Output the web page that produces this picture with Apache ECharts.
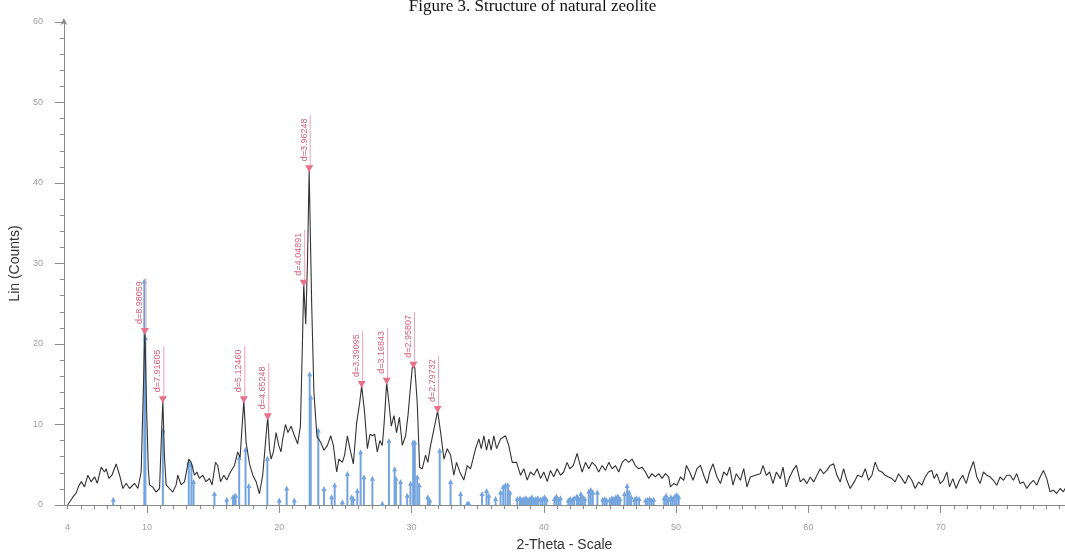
<!DOCTYPE html>
<html><head><meta charset="utf-8">
<script src="https://cdn.jsdelivr.net/npm/echarts@6/dist/echarts.min.js"></script>
<style>html,body{margin:0;padding:0;background:#fff}#c{width:1065px;height:557px}</style>
</head><body><div id="c"></div>
<script>
const chartTitle = 'Figure 3. Structure of natural zeolite';
const xName = '2-Theta - Scale';
const yName = 'Lin (Counts)';
const xLabelValues = [4, 10, 20, 30, 40, 50, 60, 70];
const xMajorTicks = [10, 20, 30, 40, 50, 60, 70];

// measured XRD trace [2-theta, counts]
const trace = [
[4.0,0.0],[4.17,0.4],[4.4,1.0],[4.65,1.5],[4.85,2.4],[5.03,2.9],[5.28,2.25],[5.53,3.7],[5.78,2.9],[6.04,3.5],[6.24,2.7],[6.54,4.7],[6.79,4.1],[6.92,4.5],[7.12,3.3],[7.35,3.7],[7.67,5.1],[7.93,3.7],[8.18,2.05],[8.43,2.7],[8.68,2.05],[9.06,2.7],[9.31,2.05],[9.56,4.1],[9.72,14.0],[9.84,21.7],[9.97,12.0],[10.1,4.5],[10.19,2.5],[10.42,2.25],[10.69,1.6],[10.95,2.05],[11.08,8.0],[11.2,13.0],[11.32,6.0],[11.45,2.5],[11.7,2.05],[11.95,1.6],[12.2,2.5],[12.33,3.7],[12.58,2.5],[12.84,2.9],[13.16,5.7],[13.34,5.3],[13.59,3.7],[13.77,4.1],[13.97,3.3],[14.22,3.7],[14.47,2.9],[14.72,3.3],[14.92,2.5],[15.18,5.3],[15.35,4.9],[15.56,2.9],[15.81,3.7],[16.03,3.1],[16.31,4.1],[16.61,4.9],[16.86,6.6],[17.04,5.9],[17.18,9.5],[17.32,13.0],[17.49,7.8],[17.75,5.1],[18.0,3.7],[18.25,2.9],[18.5,1.4],[18.75,3.7],[18.97,8.0],[19.13,11.0],[19.26,7.0],[19.38,5.7],[19.56,6.6],[19.76,9.0],[19.96,7.4],[20.13,6.6],[20.26,8.2],[20.47,10.0],[20.66,9.0],[20.89,9.8],[21.15,8.6],[21.39,7.6],[21.6,9.8],[21.75,20.0],[21.85,27.5],[22.0,22.5],[22.13,30.0],[22.26,41.5],[22.45,25.0],[22.62,14.0],[22.85,8.5],[23.13,7.8],[23.38,6.8],[23.64,7.4],[23.89,8.6],[24.09,7.4],[24.34,4.1],[24.51,5.7],[24.77,5.3],[24.94,6.2],[25.15,8.6],[25.34,7.0],[25.6,5.1],[25.85,10.2],[26.08,12.7],[26.23,14.8],[26.45,11.5],[26.66,7.0],[26.86,8.8],[27.04,8.6],[27.21,8.8],[27.41,6.6],[27.61,8.0],[27.79,7.4],[27.93,10.2],[28.12,15.2],[28.29,12.7],[28.47,9.8],[28.67,11.1],[28.87,9.0],[29.08,10.9],[29.3,7.4],[29.55,8.6],[29.73,11.1],[29.88,13.9],[30.05,17.0],[30.14,17.6],[30.25,17.0],[30.43,12.7],[30.61,4.7],[30.81,4.5],[31.06,6.2],[31.23,5.3],[31.44,7.4],[31.69,9.4],[31.97,11.7],[32.2,9.0],[32.45,5.7],[32.7,7.0],[32.95,6.2],[33.2,3.7],[33.4,5.3],[33.65,4.1],[33.95,3.1],[34.21,4.9],[34.46,4.5],[34.84,7.0],[35.09,8.2],[35.27,7.0],[35.47,8.6],[35.67,6.8],[35.84,8.2],[36.02,6.8],[36.22,8.6],[36.43,7.0],[36.73,8.2],[37.1,8.6],[37.35,7.4],[37.61,5.3],[37.94,5.3],[38.24,3.7],[38.49,4.5],[38.74,3.1],[38.99,4.1],[39.24,3.7],[39.5,4.5],[39.75,3.3],[40.0,4.1],[40.26,2.9],[40.5,4.3],[40.75,3.5],[41.0,4.5],[41.26,3.7],[41.5,4.1],[41.76,5.3],[41.96,4.5],[42.22,4.9],[42.52,6.4],[42.72,5.1],[42.9,4.1],[43.15,5.3],[43.4,4.5],[43.65,5.3],[43.9,4.9],[44.15,4.1],[44.41,4.9],[44.66,4.3],[44.91,5.3],[45.16,4.5],[45.41,4.9],[45.66,4.1],[45.92,5.3],[46.17,5.7],[46.42,5.3],[46.67,5.7],[46.92,4.9],[47.17,4.5],[47.43,4.7],[47.68,4.1],[47.93,3.3],[48.18,3.9],[48.43,3.5],[48.68,3.9],[48.94,3.3],[49.19,3.9],[49.44,3.5],
[49.57,2.25],[49.82,2.66],[50.07,2.46],[50.33,3.48],[50.58,3.07],[50.78,4.92],[51.03,4.1],[51.28,3.07],[51.58,4.51],[51.84,4.92],[52.09,3.69],[52.34,2.66],[52.54,4.1],[52.79,5.12],[53.09,3.48],[53.35,2.66],[53.6,4.1],[53.85,3.69],[54.05,4.71],[54.3,2.46],[54.55,3.89],[54.86,3.07],[55.11,4.51],[55.36,2.25],[55.61,3.48],[55.99,3.69],[56.37,3.89],[56.57,4.92],[56.82,3.69],[57.07,4.1],[57.32,2.66],[57.58,4.1],[57.88,3.28],[58.08,4.71],[58.33,2.25],[58.58,3.48],[58.83,4.3],[59.09,4.92],[59.39,2.87],[59.64,3.28],[59.89,2.66],[60.14,3.48],[60.4,2.87],[60.65,3.69],[60.9,4.51],[61.15,3.89],[61.4,4.3],[61.65,4.92],[61.91,5.12],[62.16,3.69],[62.41,2.87],[62.66,4.51],[62.91,3.07],[63.16,2.05],[63.47,2.87],[63.72,3.69],[64.05,3.48],[64.3,4.51],[64.55,3.07],[64.8,3.69],[65.05,5.33],[65.3,4.3],[65.56,4.1],[65.81,3.69],[66.06,3.48],[66.31,3.28],[66.56,2.87],[66.82,3.89],[67.07,3.28],[67.32,2.66],[67.57,3.69],[67.82,3.07],[68.07,2.05],[68.33,2.87],[68.58,2.46],[68.83,3.48],[69.08,4.1],[69.33,4.3],[69.51,3.28],[69.71,3.89],[69.96,2.66],[70.21,3.07],[70.47,4.1],[70.67,2.25],[70.92,3.28],[71.17,2.05],[71.42,3.07],[71.67,3.69],[71.93,2.66],[72.18,4.1],[72.48,5.41],[72.73,3.48],[72.98,2.66],[73.24,4.1],[73.49,3.69],[73.74,3.48],[73.99,3.07],[74.24,2.46],[74.49,3.48],[74.75,3.07],[75.0,3.69],[75.25,3.69],[75.5,3.07],[75.75,3.89],[76.0,2.66],[76.26,2.87],[76.51,2.05],[76.76,2.66],[77.01,3.07],[77.26,2.46],[77.52,3.48],[77.77,4.3],[78.02,3.28],[78.27,1.64],[78.52,1.84],[78.77,1.43],[79.03,2.05],[79.28,1.64],[79.4,2.05]
];

// reference pattern sticks [2-theta, counts]
const sticks = [
[7.45,0.9],[9.80,28.0],[9.88,21.0],[11.2,9.5],[13.16,5.5],[13.36,5.2],[13.52,3.1],[15.1,1.6],[16.03,0.9],[16.5,1.2],[16.6,1.3],[16.7,1.4],[16.97,6.1],[17.45,7.1],[17.7,2.6],[19.1,6.0],[20.0,0.8],[20.56,2.3],[21.14,0.8],[22.3,16.5],[22.38,13.6],[22.95,9.5],
[23.38,2.25],[23.96,1.2],[24.19,2.7],[24.77,0.6],[25.15,4.1],[25.47,1.2],[25.6,1.0],[25.9,2.0],[26.15,6.8],[26.4,3.7],[27.04,3.5],[27.79,0.4],[28.29,8.2],[28.72,4.7],[28.82,3.5],[29.17,3.1],[29.67,1.4],[29.92,2.9],[30.12,8.0],[30.25,8.0],[30.43,3.7],[30.58,2.7],[31.23,1.2],[31.38,0.8],[32.13,7.0],[32.95,3.1],[33.71,1.6],[34.21,0.4],[34.34,0.4],[35.33,1.6],[35.67,2.0],[35.84,1.4],[36.35,1.0],[36.73,1.8],[36.93,2.5],[37.1,2.7],[37.28,2.7],[37.43,1.8],
[37.99,1.0],[38.2,1.1],[38.35,0.9],[38.5,1.0],[38.65,1.1],[38.8,0.9],[38.95,1.0],[39.1,1.2],[39.25,0.9],[39.4,1.0],[39.55,1.1],[39.75,0.9],[39.9,1.0],[40.05,1.2],[40.2,0.9],
[40.8,1.0],[40.95,1.3],[41.1,0.9],[41.25,1.1],[41.85,0.8],[42.0,1.0],[42.15,0.9],[42.3,1.1],[42.5,1.3],[42.65,1.0],[42.8,1.6],[42.95,1.2],[43.1,1.0],[43.4,1.9],[43.55,2.1],[43.7,1.8],[44.05,1.8],
[44.45,0.9],[44.6,1.0],[44.75,0.8],[45.0,0.9],[45.15,1.1],[45.3,1.0],[45.45,1.2],[45.6,1.3],[45.75,1.0],[46.1,1.6],[46.3,2.6],[46.45,1.8],[46.6,1.2],[46.85,0.9],[47.0,1.1],[47.2,1.0],
[47.7,0.8],[47.85,0.9],[48.0,1.0],[48.15,0.8],[48.3,0.9],[49.1,1.1],[49.25,1.4],[49.4,0.9],[49.6,1.2],[49.75,1.0],[49.9,1.3],[50.05,1.5],[50.2,1.2]
];

// identified peaks
const peakX = [9.84, 11.2, 17.32, 19.13, 21.85, 22.26, 26.23, 28.12, 30.14, 31.97];
const peakY = [21.5, 13.0, 13.0, 10.9, 27.5, 41.7, 14.9, 15.3, 17.3, 11.8];
const peakLabels = ['d=8.98059','d=7.91605','d=5.12460','d=4.65248','d=4.04891','d=3.96248','d=3.39095','d=3.16843','d=2.95807','d=2.79732'];

const minorTicks = [];
for (let v = 4; v <= 79; v++) minorTicks.push(v);

const chart = echarts.init(document.getElementById('c'), null, {renderer: 'canvas'});
const axisColor = '#8a8a8a';
const labelStyle = {color: '#a0a0a0', fontSize: 9, fontFamily: 'Arial'};

chart.setOption({
  animation: false,
  backgroundColor: '#ffffff',
  title: {
    text: chartTitle, left: 'center', top: -7,
    textStyle: {fontFamily: 'Liberation Serif', fontWeight: 'normal', fontSize: 17, color: '#111'}
  },
  grid: {left: 63, right: 0, top: 22, bottom: 47},
  xAxis: [
    {
      type: 'value', min: 3.72, max: 79.4, position: 'bottom',
      name: xName, nameLocation: 'middle', nameGap: 33,
      nameTextStyle: {fontFamily: 'Arial', fontSize: 14, color: '#333'},
      axisLine: {show: true, lineStyle: {color: axisColor, width: 1}},
      axisTick: {show: true, customValues: minorTicks, length: 4, lineStyle: {color: axisColor}},
      axisLabel: {show: false},
      splitLine: {show: false}
    },
    {
      type: 'value', min: 3.72, max: 79.4, position: 'bottom',
      axisLine: {show: false},
      axisTick: {show: true, customValues: xMajorTicks, length: 8, lineStyle: {color: axisColor}},
      axisLabel: Object.assign({show: true, customValues: xLabelValues, margin: 18}, labelStyle),
      splitLine: {show: false}
    }
  ],
  yAxis: {
    type: 'value', min: 0, max: 60, interval: 10,
    name: yName, nameLocation: 'middle', nameGap: 30, nameRotate: 90,
    nameTextStyle: {fontFamily: 'Arial', fontSize: 14, color: '#333'},
    axisLine: {show: true, lineStyle: {color: axisColor, width: 1}, symbol: ['none', 'arrow'], symbolSize: [5, 7], symbolOffset: [0, 4]},
    axisTick: {show: true, length: 9, lineStyle: {color: axisColor}},
    minorTick: {show: true, splitNumber: 5, length: 4, lineStyle: {color: axisColor}},
    axisLabel: Object.assign({margin: 21}, labelStyle),
    splitLine: {show: false},
    minorSplitLine: {show: false}
  },
  series: [
    {
      type: 'custom', xAxisIndex: 0, yAxisIndex: 0, z: 2,
      data: sticks,
      renderItem: function (params, api) {
        const x = api.value(0), y = api.value(1);
        const p0 = api.coord([x, 0]);
        const p1 = api.coord([x, y]);
        return {
          type: 'group',
          children: [
            {type: 'line', shape: {x1: p0[0], y1: p0[1], x2: p1[0], y2: p1[1] + 2},
             style: {stroke: '#74a4de', lineWidth: 2}},
            {type: 'polygon', shape: {points: [[p1[0] - 2.5, p1[1] + 4], [p1[0] + 2.5, p1[1] + 4], [p1[0], p1[1] - 1]]},
             style: {fill: '#74a4de'}}
          ]
        };
      }
    },
    {
      type: 'line', xAxisIndex: 0, yAxisIndex: 0, z: 3,
      data: trace, showSymbol: false, symbol: 'none',
      lineStyle: {color: '#333333', width: 1.1}
    },
    {
      type: 'custom', xAxisIndex: 0, yAxisIndex: 0, z: 4,
      data: peakX.map((x, i) => [x, peakY[i]]),
      renderItem: function (params, api) {
        const p = api.coord([api.value(0), api.value(1)]);
        const label = peakLabels[params.dataIndex];
        return {
          type: 'group',
          children: [
            {type: 'line', shape: {x1: p[0] + 1, y1: p[1] - 3, x2: p[0] + 1, y2: p[1] - 54},
             style: {stroke: '#e9a3b3', lineWidth: 1}},
            {type: 'polygon', shape: {points: [[p[0] - 4, p[1] - 4], [p[0] + 4, p[1] - 4], [p[0], p[1] + 3]]},
             style: {fill: '#e7708a'}},
            {type: 'text', x: p[0] - 0.5, y: p[1] - 8, rotation: Math.PI / 2,
             style: {text: label, fill: '#d8607c', font: '9px Arial', align: 'left', verticalAlign: 'bottom'}}
          ]
        };
      }
    }
  ]
});
</script>
</body></html>
